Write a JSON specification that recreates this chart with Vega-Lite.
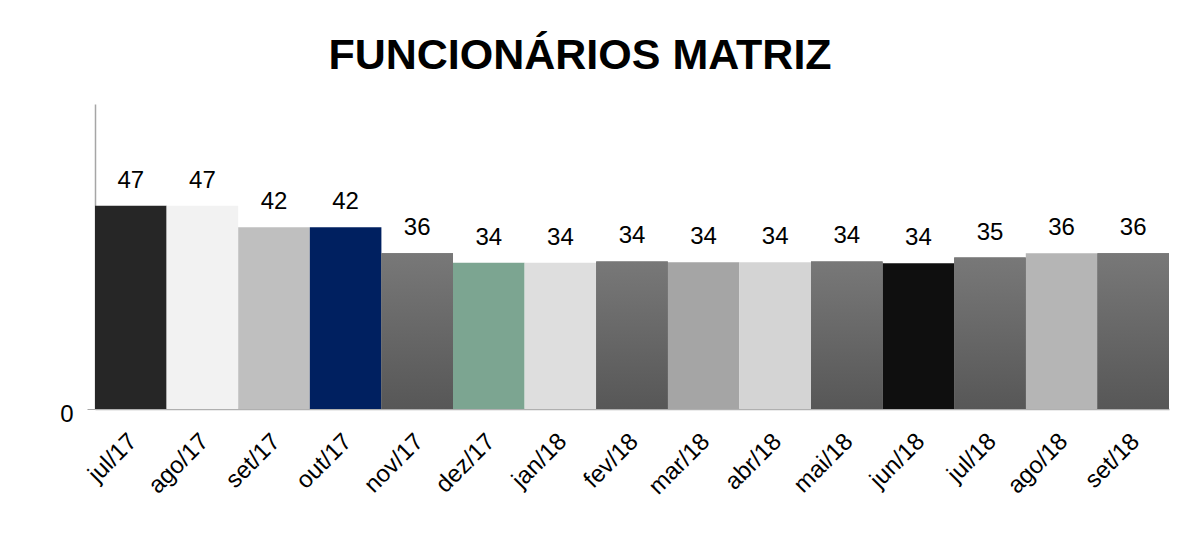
{
  "$schema": "https://vega.github.io/schema/vega-lite/v6.json",
  "autosize": "none",
  "width": 1074,
  "height": 305,
  "padding": {"left": 95, "top": 104, "right": 16, "bottom": 135},
  "background": "white",
  "title": {
    "text": "FUNCIONÁRIOS MATRIZ",
    "font": "Liberation Sans",
    "fontSize": 43,
    "fontWeight": "bold",
    "color": "#000000",
    "anchor": "middle",
    "baseline": "alphabetic",
    "dx": -52,
    "offset": -8
  },
  "config": {"view": {"stroke": null}},
  "data": {
    "values": [
      {"mes": "jul/17", "valor": 47},
      {"mes": "ago/17", "valor": 47},
      {"mes": "set/17", "valor": 42},
      {"mes": "out/17", "valor": 42},
      {"mes": "nov/17", "valor": 36},
      {"mes": "dez/17", "valor": 33.8},
      {"mes": "jan/18", "valor": 33.8},
      {"mes": "fev/18", "valor": 34.1},
      {"mes": "mar/18", "valor": 33.9},
      {"mes": "abr/18", "valor": 33.9},
      {"mes": "mai/18", "valor": 34.1},
      {"mes": "jun/18", "valor": 33.7},
      {"mes": "jul/18", "valor": 35},
      {"mes": "ago/18", "valor": 36},
      {"mes": "set/18", "valor": 36}
    ]
  },
  "encoding": {
    "x": {
      "field": "mes",
      "type": "nominal",
      "sort": null,
      "scale": {"paddingInner": 0, "paddingOuter": 0},
      "axis": {
        "title": null,
        "labelAngle": -45,
        "labelFont": "Liberation Sans",
        "labelFontSize": 24,
        "labelColor": "#000000",
        "labelPadding": 20,
        "labelOffset": -6,
        "ticks": false,
        "domainColor": "#b0b0b0",
        "domainWidth": 1.5
      }
    },
    "y": {
      "field": "valor",
      "type": "quantitative",
      "scale": {"domain": [0, 70.5], "nice": false},
      "axis": {
        "title": null,
        "values": [0],
        "grid": false,
        "labelFont": "Liberation Sans",
        "labelFontSize": 24,
        "labelColor": "#000000",
        "labelPadding": 14,
        "labelOffset": 5,
        "tickSize": 8,
        "tickColor": "#a6a6a6",
        "domainColor": "#a6a6a6",
        "domainWidth": 1.5
      }
    }
  },
  "layer": [
    {
      "mark": {"type": "bar"},
      "encoding": {
        "color": {
          "field": "mes",
          "type": "nominal",
          "legend": null,
          "scale": {
            "domain": ["jul/17", "ago/17", "set/17", "out/17", "nov/17", "dez/17", "jan/18", "fev/18", "mar/18", "abr/18", "mai/18", "jun/18", "jul/18", "ago/18", "set/18"],
            "range": ["#262626", "#f2f2f2", "#bfbfbf", "#002060", "#676767", "#7ca591", "#dedede", "#676767", "#a5a5a5", "#d4d4d4", "#676767", "#0f0f0f", "#676767", "#b5b5b5", "#676767"]
          }
        }
      }
    },
    {
      "transform": [{"filter": {"field": "mes", "oneOf": ["nov/17", "fev/18", "mai/18", "jul/18", "set/18"]}}],
      "mark": {
        "type": "bar",
        "color": {
          "gradient": "linear",
          "x1": 0, "y1": 0, "x2": 0, "y2": 1,
          "stops": [
            {"offset": 0, "color": "#787878"},
            {"offset": 1, "color": "#575757"}
          ]
        }
      }
    },
    {
      "mark": {
        "type": "text",
        "font": "Liberation Sans",
        "fontSize": 24,
        "color": "#000000",
        "baseline": "alphabetic",
        "dy": -18
      },
      "encoding": {
        "text": {"field": "valor", "type": "quantitative", "format": ".0f"}
      }
    }
  ]
}
